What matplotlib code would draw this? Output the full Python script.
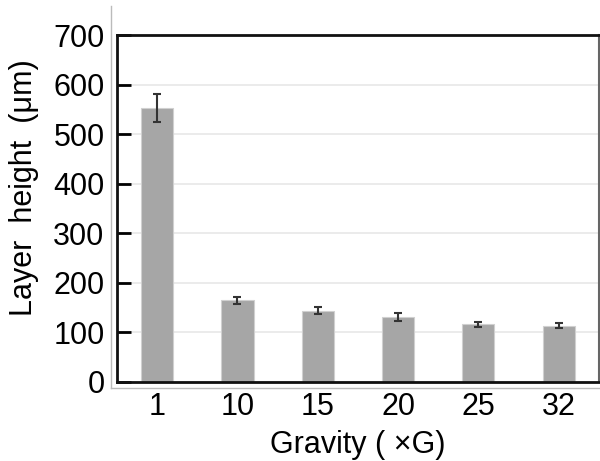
"""Layer height vs gravity bar chart."""

import matplotlib
matplotlib.use("Agg")
import matplotlib.pyplot as plt
from matplotlib.lines import Line2D

gravity = ["1", "10", "15", "20", "25", "32"]
layer_height = [553, 165, 144, 131, 116, 113]
height_err = [28, 7, 7, 8, 6, 5]

plt.rcParams["font.family"] = ["Liberation Sans", "DejaVu Sans"]

fig = plt.figure(figsize=(6, 4.61), dpi=100)
ax = fig.add_axes([0.195, 0.1714, 0.803, 0.7526])

x = range(len(gravity))
ax.bar(x, layer_height, width=0.4, color="#a6a6a6", edgecolor="#d0d0d0",
       linewidth=0.8, zorder=2)
ax.errorbar(x, layer_height, yerr=height_err, fmt="none", ecolor="#333333",
            elinewidth=1.5, capsize=3.2, capthick=1.5, zorder=3)

ax.set_xlim(-0.5, len(gravity) - 0.5)
ax.set_ylim(0, 700)
ax.set_yticks(range(0, 701, 100))
ax.set_xticks(list(x))
ax.set_xticklabels(gravity)
ax.yaxis.grid(True, color="#e8e8e8", linewidth=1.2, zorder=0)
ax.set_axisbelow(True)

ax.tick_params(axis="y", direction="in", length=10, width=2, labelsize=22, pad=9)
ax.tick_params(axis="x", length=0, labelsize=22, pad=7)
for side in ["left", "top", "bottom"]:
    ax.spines[side].set_linewidth(2)
    ax.spines[side].set_color("#111111")
ax.spines["right"].set_linewidth(1.5)
ax.spines["right"].set_color("#666666")

ax.set_ylabel("Layer  height  (μm)", fontsize=22)
ax.yaxis.set_label_coords(-0.162, 0.559)
ax.set_xlabel("Gravity ( ×G)", fontsize=22, labelpad=6)

# thin grey outer frame
fig.add_artist(Line2D([111 / 600, 111 / 600], [1 - 6 / 461, 1 - 388 / 461],
                      color="#bbbbbb", linewidth=1))
fig.add_artist(Line2D([111 / 600, 1.0], [1 - 388 / 461, 1 - 388 / 461],
                      color="#bbbbbb", linewidth=1))

fig.savefig("out.png", dpi=100)
plt.close(fig)
